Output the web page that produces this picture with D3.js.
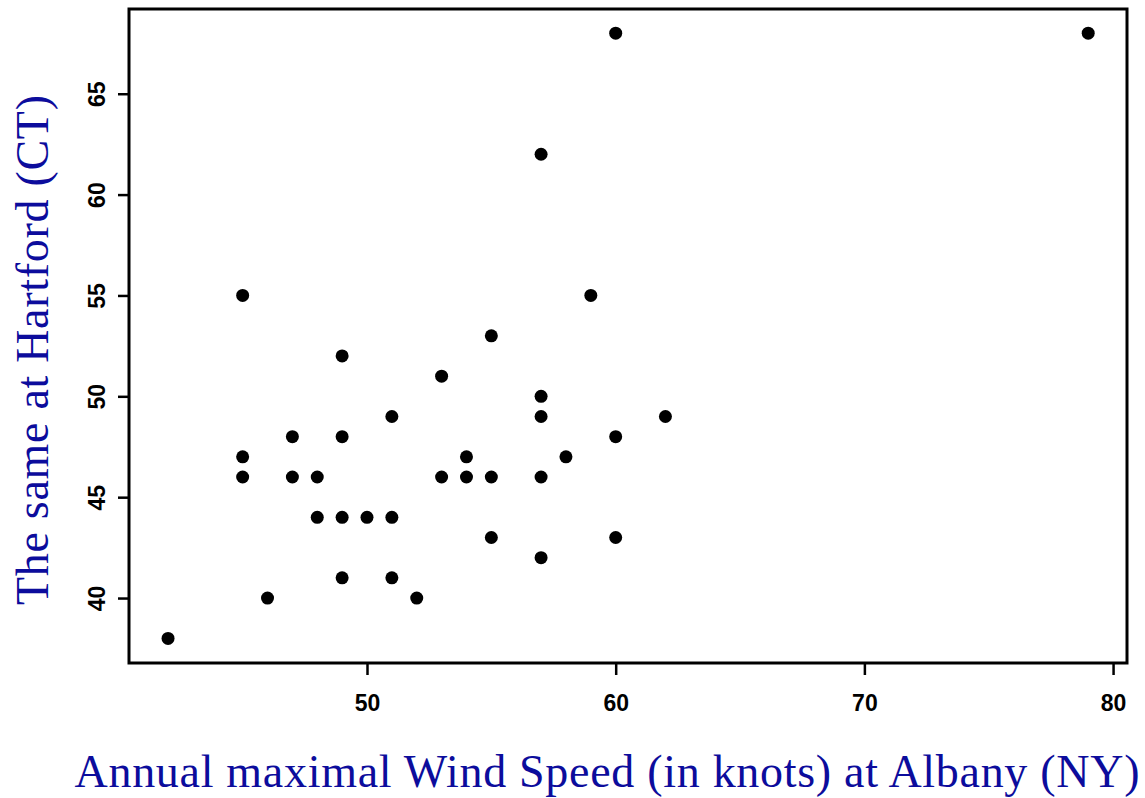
<!DOCTYPE html>
<html>
<head>
<meta charset="utf-8">
<script src="https://cdn.jsdelivr.net/npm/d3@7"></script>
<style>
  body { margin: 0; background: #fff; }
</style>
</head>
<body>
<svg id="chart" width="1145" height="798"></svg>
<script>
'use strict';
// Annual maximal wind speeds (knots): Albany (x) vs Hartford (y)
var albany   = [42, 45, 45, 45, 46, 47, 47, 48, 48, 49, 49, 49, 49, 50, 51, 51, 51, 52, 53, 53,
                54, 54, 55, 55, 55, 57, 57, 57, 57, 57, 58, 59, 60, 60, 60, 62, 79];
var hartford = [38, 55, 47, 46, 40, 48, 46, 46, 44, 52, 48, 44, 41, 44, 49, 44, 41, 40, 51, 46,
                47, 46, 53, 46, 43, 62, 50, 49, 46, 42, 47, 55, 68, 48, 43, 49, 68];
var xTicks = [50, 60, 70, 80];
var yTicks = [40, 45, 50, 55, 60, 65];

var tickFont  = '"Liberation Sans", Arial, sans-serif'
    ,titleFont = '"Liberation Serif", "Times New Roman", Times, serif'
    ,titleColor = '#0c0c9c';

var margin = {top: 9, right: 18, bottom: 135, left: 129}
    ,width  = 1145 - margin.left - margin.right
    ,height = 798 - margin.top - margin.bottom;

var svg = d3.select('#chart');
var g = svg.append('g')
           .attr('transform', 'translate(' + margin.left + ',' + margin.top + ')');

var x = d3.scaleLinear().domain([40.43, 80.56]).range([0, width]);
var y = d3.scaleLinear().domain([36.78, 69.2]).range([height, 0]);

// x axis
var xAxis = g.append('g')
             .attr('transform', 'translate(0,' + height + ')')
             .call(d3.axisBottom(x).tickValues(xTicks).tickSize(12).tickPadding(20));
xAxis.select('.domain').remove();
xAxis.selectAll('.tick line').attr('stroke-width', 2.5);

// y axis, labels rotated like the S-plus original
var yAxis = g.append('g')
             .call(d3.axisLeft(y).tickValues(yTicks).tickSize(11));
yAxis.select('.domain').remove();
yAxis.selectAll('.tick line').attr('stroke-width', 2.5);
yAxis.selectAll('.tick text')
     .attr('x', null).attr('dy', null)
     .attr('text-anchor', 'middle')
     .attr('transform', 'translate(-32,0) rotate(-90)')
     .attr('dy', '0.35em');

g.selectAll('.tick text')
 .style('font-family', tickFont)
 .style('font-weight', 'bold')
 .style('font-size', '23px')
 .style('fill', '#000');

// frame
g.append('rect')
 .attr('width', width).attr('height', height)
 .attr('fill', 'none').attr('stroke', '#000').attr('stroke-width', 3);

// points
g.selectAll('circle.pt')
 .data(albany).enter()
   .append('circle')
   .attr('class', 'pt')
   .attr('cx', function(d) { return x(d); })
   .attr('cy', function(d, i) { return y(hartford[i]); })
   .attr('r', 6.5)
   .attr('fill', '#000');

// titles
svg.append('text')
   .attr('x', 607).attr('y', 787)
   .attr('text-anchor', 'middle')
   .style('font-family', titleFont)
   .style('font-size', '46px')
   .style('fill', titleColor)
   .attr('textLength', 1065)
   .text('Annual maximal Wind Speed (in knots) at Albany (NY)');

svg.append('text')
   .attr('transform', 'translate(48,350) rotate(-90)')
   .attr('text-anchor', 'middle')
   .style('font-family', titleFont)
   .style('font-size', '46px')
   .style('fill', titleColor)
   .attr('textLength', 510)
   .text('The same at Hartford (CT)');
</script>
</body>
</html>
